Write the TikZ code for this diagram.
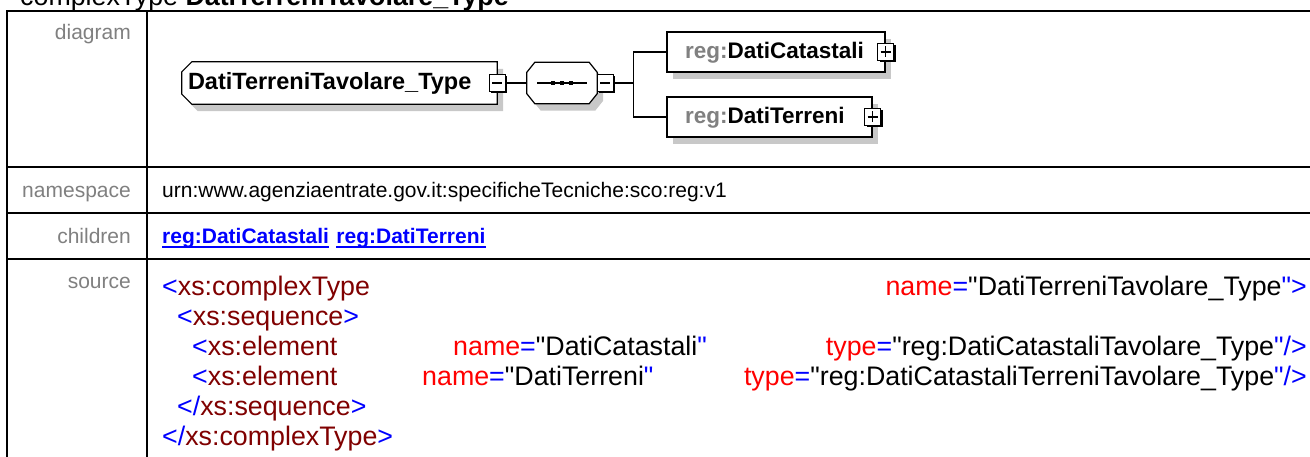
\documentclass[tikz,border=0pt]{standalone}
\usepackage{fontspec}
\setmainfont{Liberation Sans}[Ligatures=TeXOff]
\usetikzlibrary{positioning,shadows,backgrounds}

\definecolor{labelgray}{RGB}{128,128,128}
\definecolor{shadowgray}{RGB}{200,200,200}
\definecolor{linkblue}{RGB}{0,0,255}
\definecolor{tagred}{RGB}{128,0,0}
\definecolor{attrred}{RGB}{255,0,0}

% pieces of the xml source
\newcommand{\xsym}[1]{\textcolor{linkblue}{#1}}
\newcommand{\xtag}[1]{\textcolor{tagred}{#1}}
\newcommand{\xattr}[2]{\textcolor{attrred}{#1}\xsym{=}"#2\xsym{"}}

\begin{document}
\begin{tikzpicture}[x=1pt, y=-1pt,
    tableline/.style={line width=2pt},
    rowlabel/.style={anchor=base east, inner sep=0pt, text=labelgray, font=\fontsize{21}{25}\selectfont},
    rowvalue/.style={anchor=base west, inner sep=0pt, font=\fontsize{21}{25}\selectfont},
    link/.style={rowvalue, text=linkblue, font=\bfseries\fontsize{21}{25}\selectfont},
    srcline/.style={inner sep=0pt, font=\fontsize{26.8}{30}\selectfont},
    shapeshadow/.style={preaction={fill=shadowgray, transform canvas={xshift=6pt, yshift=-7pt}}},
    elem/.style={draw, line width=1.2pt, fill=white, minimum height=40pt, inner xsep=18pt, inner ysep=0pt,
        align=left, text height=17pt, text depth=4pt, font=\bfseries\fontsize{22.5}{26}\selectfont,
        drop shadow={shadow xshift=6pt, shadow yshift=-7pt, fill=shadowgray, draw=none, opacity=1}},
    toggle/.style={draw, line width=1.2pt, fill=white, minimum width=16pt, minimum height=17pt, inner sep=0pt,
        drop shadow={shadow xshift=2pt, shadow yshift=-2pt, fill=black, draw=none, opacity=1}},
    minus/.style={toggle, path picture={
        \draw[line width=1.2pt] ([xshift=3pt]path picture bounding box.west) -- ([xshift=-3pt]path picture bounding box.east);}},
    plus/.style={toggle, path picture={
        \draw[line width=1.2pt] ([xshift=3pt]path picture bounding box.west) -- ([xshift=-3pt]path picture bounding box.east);
        \draw[line width=1.2pt] ([yshift=-3pt]path picture bounding box.north) -- ([yshift=3pt]path picture bounding box.south);}}
]
\useasboundingbox (0,0) rectangle (1310,457);
\clip (0,0) rectangle (1310,457);

% title, cut at the top
\node[srcline, anchor=base west] (title) at (20,6) {complexType \textbf{DatiTerreniTavolare\_Type}};

% table
\draw[tableline] (1320,11) -- (7,11) -- (7,470);
\draw[tableline] (147,11) -- (147,470);
\foreach \y in {167,213,259}
    \draw[tableline] (7,\y) -- (1320,\y);

\node[rowlabel] (labDiagram) at (131,40) {diagram};
\node[rowlabel] (labNamespace) at (131,198) {namespace};
\node[rowlabel] (labChildren) at (131,244) {children};
\node[rowlabel] (labSource) at (131,289) {source};

\node[rowvalue] (nsValue) at (162,198) {urn:www.agenziaentrate.gov.it:specificheTecniche:sco:reg:v1};
\node[link] (lnkCat) at (162,244) {reg:DatiCatastali};
\node[link, right=7pt of lnkCat.base east, anchor=base west] (lnkTer) {reg:DatiTerreni};
\draw[linkblue, line width=1.3pt] ([yshift=-3pt]lnkCat.base west) -- ([yshift=-3pt]lnkCat.base east);
\draw[linkblue, line width=1.3pt] ([yshift=-3pt]lnkTer.base west) -- ([yshift=-3pt]lnkTer.base east);

% diagram
\node[inner xsep=6pt, inner ysep=0pt, minimum width=315pt, minimum height=42pt, text width=303pt, align=left,
    text height=17pt, text depth=4pt, font=\bfseries\fontsize{23.5}{26}\selectfont] (main) at (339.5,83) {DatiTerreniTavolare\_Type};
\node[minimum width=70pt, minimum height=41pt, inner sep=0pt] (seq) at (562,83) {};

\begin{pgfonlayer}{background}
    \fill[white] (0,0) rectangle (1310,457);
    \draw[line width=1.2pt, fill=white, shapeshadow] (main.north east) -- ([xshift=10pt]main.north west)
        -- ([yshift=-10pt]main.north west) -- ([yshift=10pt]main.south west)
        -- ([xshift=10pt]main.south west) -- (main.south east) -- cycle;
    \draw[line width=1.2pt, fill=white, shapeshadow] ([xshift=8pt]seq.north west) -- ([xshift=-8pt]seq.north east)
        -- ([yshift=-10pt]seq.north east) -- ([yshift=10pt]seq.south east)
        -- ([xshift=-8pt]seq.south east) -- ([xshift=8pt]seq.south west)
        -- ([yshift=10pt]seq.south west) -- ([yshift=-10pt]seq.north west) -- cycle;
\end{pgfonlayer}

\draw[line width=1.2pt] ([xshift=-25pt]seq.center) -- ([xshift=25pt]seq.center);
\foreach \d in {-9,0,9}
    \fill ([xshift=\d pt]seq.center) +(-2.2,-2.2) rectangle +(2.2,2.2);

\node[elem, minimum width=218pt, text width=182pt] (cat) at (776,52) {\textcolor{labelgray}{reg:}DatiCatastali};
\node[elem, minimum width=205pt, text width=169pt] (ter) at (769.5,117) {\textcolor{labelgray}{reg:}DatiTerreni};

\node[minus] (mainTog) at (main.east) {};
\node[minus] (seqTog) at ([xshift=8pt]seq.east) {};
\node[plus] (catTog) at (cat.east) {};
\node[plus] (terTog) at (ter.east) {};

\coordinate (fork) at ([xshift=20pt]seqTog.east);
\draw[line width=1.2pt] (mainTog.east) -- (seq.west);
\draw[line width=1.2pt] (seqTog.east) -- (fork) |- (cat.west);
\draw[line width=1.2pt] (fork) |- (ter.west);

% source
\node[srcline, anchor=base west] (src1) at (162,295) {\xsym{<}\xtag{xs:complexType}};
\node[srcline, anchor=base east] (src1a) at (1307,295) {\xattr{name}{DatiTerreniTavolare\_Type}\xsym{>}};
\node[srcline, anchor=base west] (src2) at (177,325) {\xsym{<}\xtag{xs:sequence}\xsym{>}};
\node[srcline, anchor=base west] (src3) at (192,355) {\xsym{<}\xtag{xs:element}};
\node[srcline, anchor=base west] (src3a) at (453,355) {\xattr{name}{DatiCatastali}};
\node[srcline, anchor=base east] (src3b) at (1307,355) {\xattr{type}{reg:DatiCatastaliTavolare\_Type}\xsym{/>}};
\node[srcline, anchor=base west] (src4) at (192,385) {\xsym{<}\xtag{xs:element}};
\node[srcline, anchor=base west] (src4a) at (422,385) {\xattr{name}{DatiTerreni}};
\node[srcline, anchor=base east] (src4b) at (1307,385) {\xattr{type}{reg:DatiCatastaliTerreniTavolare\_Type}\xsym{/>}};
\node[srcline, anchor=base west] (src5) at (177,415) {\xsym{</}\xtag{xs:sequence}\xsym{>}};
\node[srcline, anchor=base west] (src6) at (162,445) {\xsym{</}\xtag{xs:complexType}\xsym{>}};
\end{tikzpicture}
\end{document}
